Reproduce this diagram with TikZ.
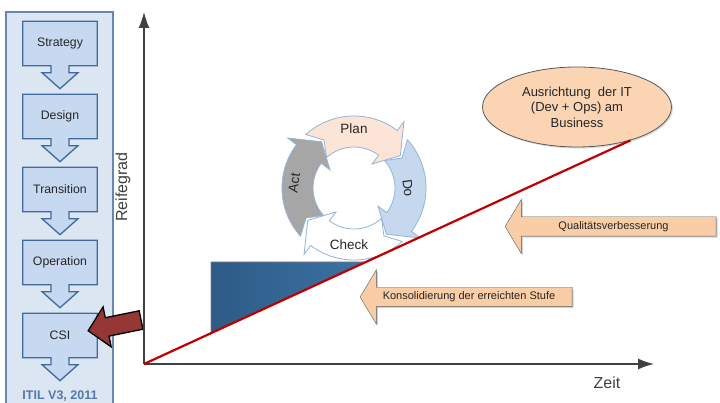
\documentclass[tikz,border=0pt]{standalone}
\usepackage{fontspec}
\setmainfont{Liberation Sans}
\usetikzlibrary{shapes.geometric,shapes.arrows,arrows.meta,shadows}

\definecolor{panelblue}{HTML}{DCE6F2}
\definecolor{boxblue}{HTML}{C6D9F1}
\definecolor{lineblue}{HTML}{41699E}
\definecolor{ringblue}{HTML}{95B3D7}
\definecolor{doblue}{HTML}{C5D8EE}
\definecolor{planpeach}{HTML}{FCE4D6}
\definecolor{actgray}{HTML}{A6A6A6}
\definecolor{peach}{HTML}{F9CDA6}
\definecolor{darkred}{HTML}{953735}
\definecolor{axisgray}{HTML}{404040}
\definecolor{textgray}{HTML}{262626}
\definecolor{stepdark}{HTML}{2E5B86}
\definecolor{steplight}{HTML}{3B72A4}

\pgfdeclarelayer{background}
\pgfsetlayers{background,main}

% one curved arrow of the cycle: tail angle, tip angle, style
\newcommand\pdcaarrow[3]{%
  \draw[#3] (#1:72) arc[start angle=#1, end angle=#2+18, radius=72]
    -- (#2+18:83) -- (#2:56.5) -- (#2+18:30) -- (#2+18:41)
    arc[start angle=#2+18, end angle=#1, radius=41] -- (#1-10:56.5) -- cycle;}

\begin{document}
\begin{tikzpicture}[x=1pt,y=1pt,
    phase/.style={minimum width=74pt, minimum height=44pt, inner sep=0pt,
      font=\fontsize{12.3}{14}\selectfont, text=textgray},
    phasearrow/.style={fill=boxblue, draw=lineblue, line width=1.3pt},
    axis/.style={draw=axisgray, line width=1.5pt, -{Latex[length=16pt,width=11pt]}},
    ring/.style={draw=ringblue, line width=0.8pt},
    pdca/.style={font=\fontsize{13.5}{15}\selectfont, text=textgray},
    gain/.style={single arrow, shape border rotate=180, fill=peach, draw=black!65,
      single arrow head extend=17.5pt, single arrow tip angle=118,
      text height=8pt, text depth=2.5pt, inner ysep=4.25pt, inner xsep=2pt,
      font=\fontsize{11}{13}\selectfont, text=textgray,
      drop shadow={shadow xshift=1.5pt, shadow yshift=-1.5pt, opacity=.35}},
    backarrow/.style={single arrow, shape border rotate=180, fill=darkred, draw=black,
      line width=1.3pt, single arrow head extend=11pt, single arrow tip angle=93,
      text height=17.5pt, text depth=0pt, inner sep=0pt, minimum height=54pt},
    goalell/.style={ellipse, fill=peach!85!white, draw=black!65, line width=0.8pt,
      minimum width=189pt, minimum height=80pt, inner sep=0pt, align=center,
      font=\fontsize{13}{15.5}\selectfont, text=textgray,
      drop shadow={shadow xshift=1.5pt, shadow yshift=-1.5pt, opacity=.3}},
    trend/.style={draw=red!75!black, line width=2.2pt}
  ]
  \useasboundingbox (0,0) rectangle (720,403);

  % ITIL phases
  \begin{pgfonlayer}{background}
    \draw[fill=panelblue, draw=lineblue!80, line width=1.3pt] (6,-5) rectangle (113,391);
  \end{pgfonlayer}
  \foreach \name [count=\i] in {Strategy,Design,Transition,Operation,CSI}{
    \node[phase] (\name) at (60,432.5-73*\i) {\name};
    \begin{pgfonlayer}{background}
      \draw[phasearrow] (\name.south west) -- (\name.north west) -- (\name.north east)
        -- (\name.south east) -- ([shift={(9,0)}]\name.south) -- ([shift={(9,-7)}]\name.south)
        -- ([shift={(18,-7)}]\name.south) -- ([shift={(0,-23)}]\name.south)
        -- ([shift={(-18,-7)}]\name.south) -- ([shift={(-9,-7)}]\name.south)
        -- ([shift={(-9,0)}]\name.south) -- cycle;
    \end{pgfonlayer}
  }
  \node[font=\bfseries\fontsize{12.5}{14}\selectfont, text=lineblue!90] (itil) at (60,7) {ITIL V3, 2011};

  \node[backarrow, rotate=11.5] (back) at (119,78.5) {};

  % axes
  \coordinate (o) at (144,39);
  \coordinate (ytop) at (144,391);
  \coordinate (xend) at (654,39);
  \draw[axis] (o) -- (ytop);
  \draw[axis] (o) -- (xend);
  \node[rotate=90, font=\fontsize{16}{18}\selectfont, text=axisgray] (ylab) at (123,216) {Reifegrad};
  \node[font=\fontsize{16}{18}\selectfont, text=axisgray] (xlab) at (607,20) {Zeit};

  % PDCA cycle
  \begin{scope}[shift={(354,215)}]
    \pdcaarrow{132}{35}{ring, fill=planpeach}
    \pdcaarrow{42}{-55}{ring, fill=doblue}
    \pdcaarrow{-48}{-145}{ring, fill=white}
    \pdcaarrow{222}{125}{ring, fill=actgray}
    \node[pdca] (plan) at (90:59) {Plan};
    \node[pdca, rotate=-82] (do) at (0:54) {Do};
    \node[pdca] (check) at (-95:57) {Check};
    \node[pdca, rotate=82] (act) at (175:60) {Act};
  \end{scope}

  % reached level
  \shade[left color=stepdark, right color=steplight, draw=black!50, line width=0.6pt]
    (211,70) -- (211,141) -- (365.3,141) -- cycle;

  \node[goalell] (goal) at (577,296) {Ausrichtung~ der IT\\(Dev + Ops) am\\Business};
  \draw[trend] (o) -- (goal.-32);

  \node[gain, minimum height=211pt] (quality) at (613.5,176.5) {Qualitätsverbesserung};
  \node[gain, minimum height=212pt] (consolidate) at (469,106) {Konsolidierung der erreichten Stufe};
\end{tikzpicture}
\end{document}
